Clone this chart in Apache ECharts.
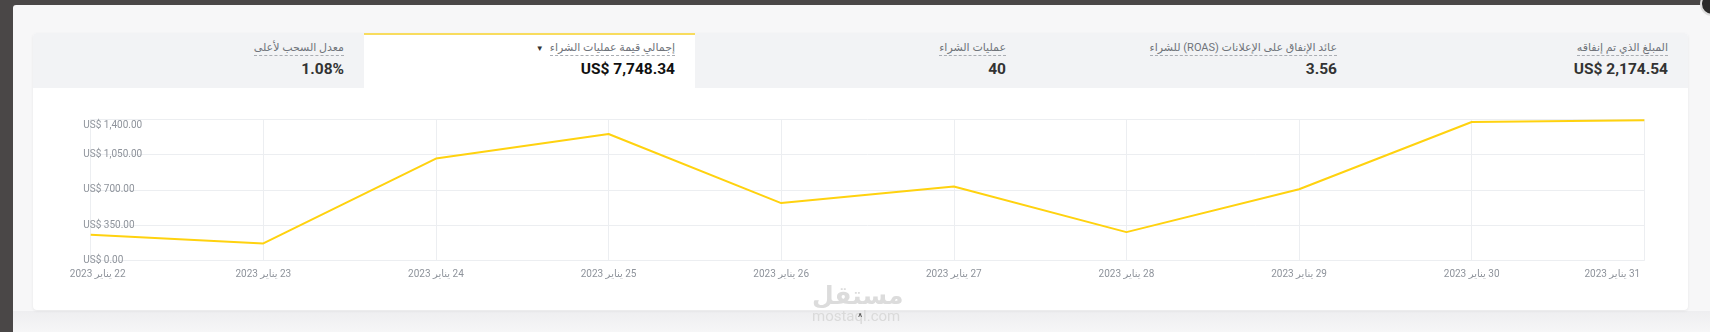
<!DOCTYPE html>
<html>
<head>
<meta charset="utf-8">
<script src="https://cdn.jsdelivr.net/npm/echarts@6/dist/echarts.min.js"></script>
<style>
  html, body { margin:0; padding:0; width:1710px; height:332px; overflow:hidden; background:#4a4747; font-family: Roboto, "Liberation Sans", "DejaVu Sans", sans-serif; }
  .panel { position:absolute; left:13px; top:5px; right:0; bottom:0; background:#f7f7f8; border-top-left-radius:3px; }
  .bottomband { position:absolute; left:13px; right:0; top:311px; bottom:0; background:linear-gradient(#eeeef0,#f6f6f7); }
  .card { position:absolute; left:33px; top:33px; width:1655px; height:277px; background:#fff; border-radius:4px; box-shadow:0 1px 3px rgba(0,0,0,0.07); overflow:hidden; }
  .tabs { position:absolute; left:0; top:0; width:1655px; height:55px; background:#f2f3f5; display:flex; }
  .tab { position:relative; width:331px; height:55px; box-sizing:border-box; }
  .tab.sel { background:#fff; border-top:2px solid #f8dc5e; }
  .tab .t { position:absolute; right:20px; top:8px; direction:rtl; font-size:11px; color:#6f737a; white-space:nowrap; }
  .tab .t span.u { border-bottom:1px dashed #a9adb3; padding-bottom:1px; }
  .tab .v { position:absolute; right:20px; top:27px; font-size:15.5px; font-weight:bold; color:#333; white-space:nowrap; direction:rtl; }
  .tab.sel .t { top:6px; }
  .tab.sel .v { top:25px; color:#111; }
  .tri { font-size:8px; color:#333; margin-right:6px; }
  .wm1 { position:absolute; left:812px; top:281px; font-size:25px; font-weight:bold; color:#dcdcdc; direction:rtl; font-family:"DejaVu Sans", sans-serif; z-index:6; }
  .wm2 { position:absolute; left:812px; top:307px; font-size:15px; color:#dadada; z-index:6; }
  .caret { position:absolute; left:858px; top:312px; font-size:10px; color:#444; z-index:7; }
  .dot { position:absolute; left:1700px; top:-8px; width:20px; height:20px; border-radius:50%; background:#2b2a2a; border:2px solid #ddd; }
  #chart { position:absolute; left:0; top:0; width:1710px; height:332px; z-index:5; direction:rtl; }
</style>
</head>
<body>
<div class="panel"></div>
<div class="bottomband"></div>
<div class="dot"></div>
<div class="card">
  <div class="tabs">
    <div class="tab"><div class="t"><span class="u">معدل السحب لأعلى</span></div><div class="v">1.08%</div></div>
    <div class="tab sel"><div class="t"><span class="u">إجمالي قيمة عمليات الشراء</span><span class="tri">▼</span></div><div class="v">US$ 7,748.34</div></div>
    <div class="tab"><div class="t"><span class="u">عمليات الشراء</span></div><div class="v">40</div></div>
    <div class="tab"><div class="t"><span class="u">عائد الإنفاق على الإعلانات (ROAS) للشراء</span></div><div class="v">3.56</div></div>
    <div class="tab"><div class="t"><span class="u">المبلغ الذي تم إنفاقه</span></div><div class="v">US$ 2,174.54</div></div>
  </div>
</div>
<div class="wm1">مستقل</div>
<div class="wm2">mostaql.com</div>
<div class="caret">^</div>
<div id="chart"></div>
<script>
const categories = ['22 يناير 2023','23 يناير 2023','24 يناير 2023','25 يناير 2023','26 يناير 2023','27 يناير 2023','28 يناير 2023','29 يناير 2023','30 يناير 2023','31 يناير 2023'];
const purchaseValue = [254, 168, 1010, 1254, 568, 733, 280, 706, 1373, 1390];
const yMin = 0, yMax = 1400, yStep = 350;

const labelColor = '#8e939b';
const labelFont = 'Roboto, "Liberation Sans", "DejaVu Sans", sans-serif';
const chart = echarts.init(document.getElementById('chart'), null, {renderer:'canvas'});
chart.setOption({
  animation:false,
  grid:{left:90.7, right:65.7, top:119.3, bottom:71.7, containLabel:false},
  xAxis:{
    type:'category', data:categories, boundaryGap:false,
    axisLine:{show:true, lineStyle:{color:'#eceef1'}},
    axisTick:{show:false},
    splitLine:{show:true, lineStyle:{color:'#eceef1', width:1}},
    axisLabel:{
      interval:0, margin:9, color:labelColor, fontSize:10, fontFamily:labelFont,
      formatter:function(v, i){
        if(i===0) return '{first|'+v+'}';
        if(i===categories.length-1) return '{last|'+v+'}';
        return v;
      },
      rich:{
        first:{padding:[0,0,0,14], color:labelColor, fontSize:10, fontFamily:labelFont},
        last:{padding:[0,64,0,0], color:labelColor, fontSize:10, fontFamily:labelFont}
      }
    }
  },
  yAxis:{
    type:'value', min:yMin, max:yMax, interval:yStep,
    axisLine:{show:false}, axisTick:{show:false},
    splitLine:{show:true, lineStyle:{color:'#eceef1', width:1}},
    axisLabel:{
      inside:true, margin:-7.4, color:labelColor, fontSize:10, fontFamily:labelFont,
      formatter:function(v){
        const s = 'US$ ' + v.toLocaleString('en-US',{minimumFractionDigits:2, maximumFractionDigits:2});
        return v===yMax ? '{top|'+s+'}' : s;
      },
      rich:{ top:{padding:[12,0,0,0], color:labelColor, fontSize:10, fontFamily:labelFont} }
    }
  },
  series:[{
    type:'line', data:purchaseValue, showSymbol:false, symbol:'none',
    lineStyle:{color:'#FFD20F', width:2}, z:1
  }]
});
</script>
</body>
</html>
